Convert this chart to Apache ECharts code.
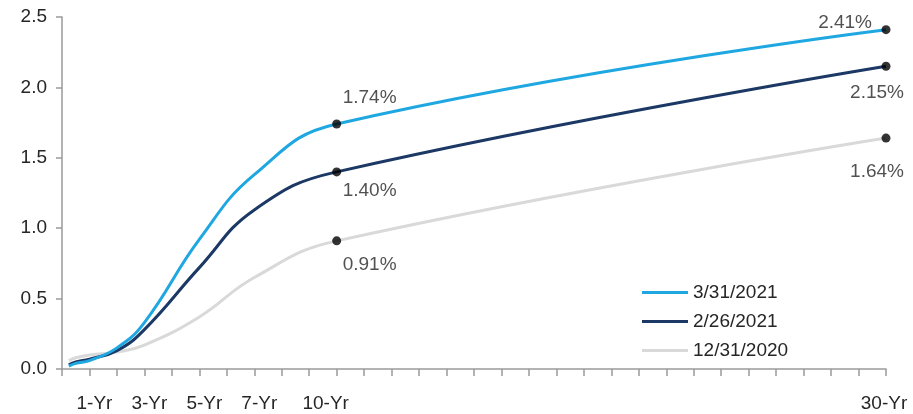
<!DOCTYPE html>
<html>
<head>
<meta charset="utf-8">
<script src="https://cdn.jsdelivr.net/npm/echarts@6/dist/echarts.min.js"></script>
<style>
html,body{margin:0;padding:0;background:#fff;}
#chart{width:913px;height:414px;}
</style>
</head>
<body>
<div id="chart"></div>
<script>
// maturities in years
const maturities = [0.25, 0.5, 1, 2, 3, 5, 7, 10, 30];
const seriesNames = ['3/31/2021', '2/26/2021', '12/31/2020'];
const yields0331 = [0.02, 0.04, 0.06, 0.15, 0.33, 0.92, 1.38, 1.74, 2.41];
const yields0226 = [0.03, 0.05, 0.07, 0.13, 0.28, 0.72, 1.13, 1.40, 2.15];
const yields1231 = [0.06, 0.08, 0.10, 0.12, 0.17, 0.37, 0.65, 0.91, 1.64];
const labelledMaturities = [10, 30];
const tickLabels = {1: '1-Yr', 3: '3-Yr', 5: '5-Yr', 7: '7-Yr', 10: '10-Yr', 30: '30-Yr'};
const yTicks = [0, 0.5, 1.0, 1.5, 2.0, 2.5];

const colors = ['#1ea7e1', '#1c3864', '#d9d9d9'];
const allYields = [yields0331, yields0226, yields1231];
const FONT = 'Liberation Sans, Arial, sans-serif';
const TXT = '#262626';
const FS = 19;

// label placement (offset from point centre) per series and labelled maturity
const labelPlace = [
  {10: {offset: [6, -26], align: 'left'}, 30: {offset: [-14, -7], align: 'right'}},
  {10: {offset: [6, 19], align: 'left'}, 30: {offset: [-9, 26], align: 'center'}},
  {10: {offset: [6, 24], align: 'left'}, 30: {offset: [-9, 34], align: 'center'}}
];

const series = [];
allYields.forEach((ys, si) => {
  series.push({
    name: seriesNames[si],
    type: 'line',
    data: maturities.map((m, i) => [m, ys[i]]),
    smooth: 0.45,
    symbol: 'none',
    color: colors[si],
    lineStyle: {width: 3, color: colors[si]},
    z: 3 - si
  });
});
allYields.forEach((ys, si) => {
  series.push({
    type: 'scatter',
    symbol: 'circle',
    symbolSize: 9,
    itemStyle: {color: '#000'},
    z: 10,
    data: labelledMaturities.map(m => {
      const i = maturities.indexOf(m);
      const p = labelPlace[si][m];
      return {
        value: [m, ys[i]],
        label: {
          show: true,
          position: 'inside',
          offset: p.offset,
          align: p.align,
          verticalAlign: 'middle',
          formatter: ys[i].toFixed(2) + '%',
          fontFamily: FONT,
          fontSize: FS,
          color: TXT
        }
      };
    })
  });
});

const chart = echarts.init(document.getElementById('chart'), null, {renderer: 'canvas'});
chart.setOption({
  animation: false,
  backgroundColor: '#fff',
  grid: {left: 62, right: 27, top: 17, bottom: 45},
  legend: {
    data: seriesNames,
    orient: 'vertical',
    left: 637,
    top: 278,
    icon: 'rect',
    itemWidth: 46,
    itemHeight: 3,
    itemGap: 10,
    textStyle: {fontFamily: FONT, fontSize: FS, color: TXT}
  },
  xAxis: {
    type: 'value',
    min: 0,
    max: 30,
    interval: 1,
    splitLine: {show: false},
    axisLine: {lineStyle: {color: '#9a9a9a', width: 1.5}},
    axisTick: {show: true, length: 7, lineStyle: {color: '#9a9a9a', width: 1.5}},
    axisLabel: {
      margin: 25,
      showMinLabel: true,
      showMaxLabel: true,
      formatter: v => {
        const t = tickLabels[v];
        if (!t) return '';
        if (v === 10) return '{ten|' + t + '}';
        if (v === 30) return '{end|' + t + '}';
        return '{s|' + t + '}';
      },
      rich: {
        s: {fontFamily: FONT, fontSize: FS, color: TXT, padding: [0, 0, 0, 10]},
        ten: {fontFamily: FONT, fontSize: FS, color: TXT, padding: [0, 22, 0, 0]},
        end: {fontFamily: FONT, fontSize: FS, color: TXT, padding: [0, 4, 0, 0]}
      }
    }
  },
  yAxis: {
    type: 'value',
    min: yTicks[0],
    max: yTicks[yTicks.length - 1],
    interval: 0.5,
    splitLine: {show: false},
    axisLine: {show: true, lineStyle: {color: '#9a9a9a', width: 1.5}},
    axisTick: {show: true, length: 6, lineStyle: {color: '#9a9a9a', width: 1.5}},
    axisLabel: {
      margin: 15,
      fontFamily: FONT,
      fontSize: FS,
      color: TXT,
      formatter: v => v.toFixed(1)
    }
  },
  series: series
});
</script>
</body>
</html>
